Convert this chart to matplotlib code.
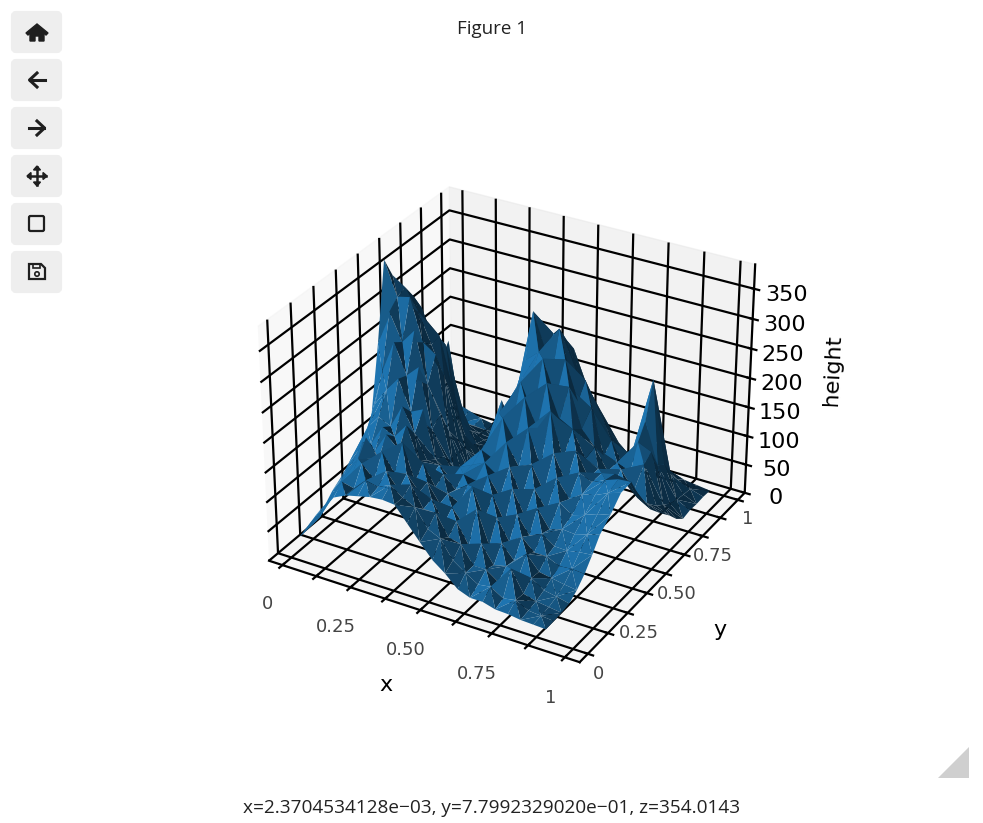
import matplotlib
matplotlib.use("Agg")
import matplotlib.pyplot as plt
from matplotlib.patches import FancyBboxPatch, Polygon, Rectangle, Circle
import numpy as np

plt.rcParams['grid.color'] = 'black'
plt.rcParams['grid.linewidth'] = 1.6
plt.rcParams['xtick.major.width'] = 1.6
plt.rcParams['ytick.major.width'] = 1.6
plt.rcParams['axes.linewidth'] = 1.6

# data, one row per y value
col_pos = np.linspace(0, 1, 21)
y_vals = np.linspace(0.05, 1, 21)
x_ends = [0.88, 0.88, 0.88, 0.88, 0.88, 0.88, 0.88, 0.88, 0.89, 0.90, 0.91,
          0.92, 0.93, 0.94, 0.95, 0.95, 0.95, 0.95, 0.95, 0.95, 0.95]
heights = [
    [23, 55, 82, 110, 120, 125, 130, 132, 130, 105, 80, 56, 40, 20, 12, 12, 6, 5, 2, 1, 0],
    [30, 50, 90, 125, 120, 140, 135, 145, 130, 120, 90, 80, 50, 35, 22, 25, 12, 16, 5, 3, 1],
    [37, 60, 100, 120, 150, 130, 150, 125, 140, 105, 105, 70, 65, 35, 35, 20, 50, 14, 8, 5, 2],
    [40, 70, 115, 140, 125, 165, 135, 140, 115, 110, 75, 85, 50, 60, 30, 35, 25, 28, 14, 10, 5],
    [55, 85, 105, 165, 135, 140, 175, 115, 120, 90, 90, 65, 100, 45, 55, 32, 50, 26, 22, 18, 15],
    [65, 95, 140, 130, 165, 145, 130, 135, 100, 95, 85, 120, 70, 80, 45, 60, 40, 40, 30, 32, 30],
    [78, 110, 125, 160, 150, 175, 120, 100, 110, 90, 105, 85, 100, 60, 80, 50, 60, 45, 44, 48, 50],
    [88, 135, 160, 150, 190, 150, 110, 108, 90, 105, 100, 115, 85, 105, 65, 85, 55, 62, 60, 66, 72],
    [78, 165, 195, 220, 170, 180, 100, 85, 100, 110, 120, 105, 125, 80, 100, 70, 90, 75, 82, 90, 95],
    [130, 210, 265, 215, 235, 135, 95, 60, 90, 125, 115, 150, 115, 125, 85, 115, 85, 100, 105, 115, 122],
    [240, 300, 255, 280, 195, 150, 65, 40, 85, 125, 175, 140, 170, 110, 140, 95, 120, 110, 120, 128, 130],
    [371, 315, 320, 250, 235, 110, 45, 25, 70, 165, 145, 205, 160, 195, 120, 140, 100, 115, 120, 115, 90],
    [335, 320, 285, 235, 185, 85, 30, 15, 80, 175, 215, 165, 225, 170, 160, 115, 105, 75, 95, 75, 62],
    [310, 295, 260, 240, 140, 55, 20, 12, 110, 190, 205, 250, 190, 215, 150, 125, 90, 100, 70, 55, 45],
    [270, 265, 205, 150, 70, 35, 14, 10, 130, 225, 245, 210, 245, 180, 175, 100, 95, 85, 105, 40, 30],
    [235, 215, 190, 90, 30, 22, 50, 18, 150, 297, 235, 280, 195, 205, 125, 115, 75, 125, 115, 30, 12],
    [215, 165, 120, 40, 25, 16, 115, 35, 130, 240, 255, 250, 190, 160, 125, 85, 85, 150, 80, 20, 0],
    [170, 170, 50, 30, 20, 12, 45, 22, 100, 195, 205, 225, 170, 135, 100, 70, 60, 210, 70, 15, 3],
    [125, 70, 25, 15, 12, 10, 15, 14, 55, 125, 145, 140, 120, 90, 70, 45, 50, 95, 40, 12, 2],
    [150, 10, 10, 8, 8, 6, 8, 8, 30, 60, 75, 80, 70, 55, 40, 25, 22, 35, 20, 10, 3],
    [27, 20, 12, 8, 5, 4, 4, 5, 12, 22, 28, 30, 26, 20, 14, 10, 9, 12, 8, 5, 2],
]
xy_ticks = [0, 0.125, 0.25, 0.375, 0.5, 0.625, 0.75, 0.875, 1]
xy_labels = ['0', '', '0.25', '', '0.50', '', '0.75', '', '1']
z_ticks = [0, 50, 100, 150, 200, 250, 300, 350]

fig = plt.figure(figsize=(9.83, 8.23), dpi=100)
ax = fig.add_axes([0.1625, 0.153, 0.70, 0.672], projection='3d')

X = np.outer(x_ends, col_pos)
Y = np.tile(y_vals.reshape(-1, 1), (1, len(col_pos)))
Z = np.array(heights, dtype=float)

# triangles by hand, so the mesh stays inside the row ends
n_rows, n_cols = Z.shape
triangles = []
for j in range(n_rows - 1):
    for i in range(n_cols - 1):
        a = j * n_cols + i
        b = a + 1
        c = a + n_cols
        d = c + 1
        if (i + j) % 2 == 0:
            triangles.append([a, b, d])
            triangles.append([a, d, c])
        else:
            triangles.append([a, b, c])
            triangles.append([b, d, c])
ax.plot_trisurf(X.ravel(), Y.ravel(), Z.ravel(), triangles=triangles, color='C0', linewidth=0, antialiased=True)

ax.set_xlim(-0.05, 1.05)
ax.set_ylim(-0.05, 1.05)
ax.set_zlim(0, 390)
ax.set_xticks(xy_ticks)
ax.set_xticklabels(xy_labels)
ax.set_yticks(xy_ticks)
ax.set_yticklabels(xy_labels)
ax.set_zticks(z_ticks)
ax.tick_params(axis='x', labelsize=13, labelcolor='#444444', pad=8)
ax.tick_params(axis='y', labelsize=13, labelcolor='#444444', pad=-1)
ax.tick_params(axis='z', labelsize=16, labelcolor='black', pad=6)
ax.set_xlabel('x', fontsize=16, labelpad=17)
ax.set_ylabel('y', fontsize=16, labelpad=15)
ax.set_zlabel('height', fontsize=16, labelpad=16)

# page chrome in pixel coordinates
page = fig.add_axes([0, 0, 1, 1], zorder=5)
page.set_xlim(0, 983)
page.set_ylim(823, 0)
page.axis('off')
page.patch.set_alpha(0)

for top in [11, 59, 107, 155, 203, 251]:
    page.add_patch(FancyBboxPatch((13, top + 2), 47, 38, boxstyle='round,pad=0,rounding_size=3',
                                  fc='#eeeeee', ec='#eeeeee', lw=3))

dark = '#1f1f1f'
page.add_patch(Polygon([(26, 33), (37, 24), (48, 33), (46, 35), (37, 28), (28, 35)], fc=dark, ec=dark))
page.add_patch(Polygon([(30, 33), (37, 29), (44, 33), (44, 41), (39, 41), (39, 36), (35, 36), (35, 41), (30, 41)], fc=dark, ec=dark))
page.plot([45, 30], [80, 80], color=dark, lw=2.2)
page.plot([37, 29.5, 37], [73, 80, 87], color=dark, lw=2.2)
page.plot([29, 44], [128, 128], color=dark, lw=2.2)
page.plot([37, 44.5, 37], [121, 128, 135], color=dark, lw=2.2)
page.plot([28, 46], [176, 176], color=dark, lw=1.8)
page.plot([37, 37], [167, 185], color=dark, lw=1.8)
for p in [[(27, 176), (31, 172.5), (31, 179.5)], [(47, 176), (43, 172.5), (43, 179.5)],
          [(37, 166), (33.5, 170), (40.5, 170)], [(37, 186), (33.5, 182), (40.5, 182)]]:
    page.add_patch(Polygon(p, fc=dark, ec=dark))
page.add_patch(FancyBboxPatch((29, 216), 15, 15, boxstyle='round,pad=0,rounding_size=1.5', fc='none', ec=dark, lw=1.6))
page.add_patch(Polygon([(29, 264), (41, 264), (45, 268), (45, 279), (29, 279)], fc='none', ec=dark, lw=1.6))
page.add_patch(Rectangle((33, 264), 7, 4, fc='none', ec=dark, lw=1.2))
page.add_patch(Circle((37, 274), 2.2, fc='none', ec=dark, lw=1.2))

page.add_patch(Polygon([(938, 778), (969, 747), (969, 778)], fc='#cfcfcf', ec='none'))

page.text(492, 29, 'Figure 1', ha='center', va='center', fontsize=13.5, color='#222222', family='Open Sans')
page.text(492, 808, 'x=2.3704534128e\u221203, y=7.7992329020e\u221201, z=354.0143', ha='center', va='center',
          fontsize=13.7, color='#222222', family='Open Sans')

fig.savefig('out.png', dpi=100)
